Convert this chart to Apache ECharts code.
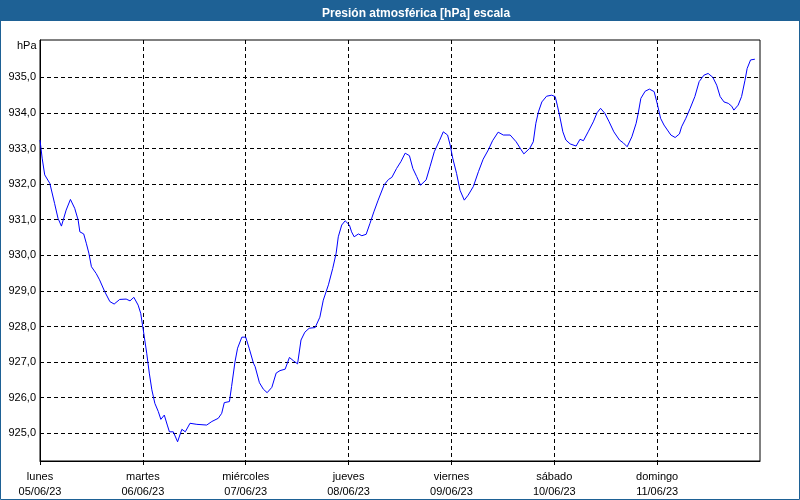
<!DOCTYPE html>
<html><head><meta charset="utf-8">
<script src="https://cdn.jsdelivr.net/npm/echarts@6/dist/echarts.min.js"></script>
<style>html,body{margin:0;padding:0;background:#fff}#c{width:800px;height:500px}</style>
</head><body><div id="c"></div>
<script>
// x tick labels (one per day, hours offset from 05/06/23 00:00)
const dayNames = ['lunes','martes','miércoles','jueves','viernes','sábado','domingo',''];
const dateLabels = ['05/06/23','06/06/23','07/06/23','08/06/23','09/06/23','10/06/23','11/06/23',''];
const xTicks = [0,24,48,72,96,120,144];
const yTicks = [925,926,927,928,929,930,931,932,933,934,935];

// hours since lunes 05/06/23 00:00
const hours = [0,0.5,1.1,2.3,3.4,4.2,5.0,6.1,7.1,8.1,8.9,9.3,10.2,10.8,11.4,12.0,13.1,13.9,15.1,16.3,17.3,18.6,20.1,21.0,21.9,22.9,23.5,24.1,24.9,25.5,26.1,26.8,27.6,28.2,29.0,29.7,30.2,31.1,32.1,33.1,33.9,35.0,36.6,38.9,40.1,41.6,42.4,43.0,44.2,44.7,45.5,46.1,47.1,48.0,48.8,49.8,50.2,51.2,52.1,53.0,54.1,55.1,56.0,57.2,58.2,59.1,60.1,60.9,61.8,62.8,64.2,65.3,66.1,67.3,68.3,69.1,69.6,70.4,71.2,72.2,72.7,73.3,74.3,75.1,76.1,77.0,77.9,78.9,80.3,81.3,82.1,83.2,84.2,85.2,86.2,87.0,87.9,88.8,90.1,91.0,92.0,93.2,94.1,95.1,95.7,96.3,97.2,98.0,99.0,99.9,101.1,102.3,103.4,104.6,105.6,106.9,108.1,109.7,111.1,112.2,112.9,114.3,115.1,115.7,116.3,117.1,118.2,119.4,120.2,120.7,121.3,122.0,122.7,123.7,125.1,126.0,126.8,127.9,129.1,130.0,130.8,131.8,132.8,133.9,135.2,136.1,137.0,138.1,139.1,139.6,140.2,141.2,142.2,143.3,144.0,144.8,145.6,146.4,147.2,148.2,149.2,149.7,150.7,151.7,152.8,153.8,154.9,155.9,157.0,157.9,158.7,159.6,160.6,161.4,161.9,162.9,163.7,164.5,165.0,165.8,166.8];
// pressure [hPa]
const hPa = [933.24,932.73,932.26,932.02,931.46,931.04,930.82,931.27,931.57,931.32,930.99,930.66,930.60,930.34,930.06,929.68,929.49,929.31,928.98,928.70,928.63,928.76,928.77,928.72,928.82,928.60,928.37,927.90,927.25,926.69,926.22,925.84,925.61,925.39,925.51,925.23,925.04,925.04,924.76,925.11,925.04,925.28,925.25,925.23,925.33,925.42,925.56,925.86,925.89,926.31,927.01,927.39,927.70,927.70,927.39,926.97,926.87,926.42,926.24,926.14,926.29,926.69,926.76,926.80,927.13,927.04,926.95,927.62,927.84,927.95,927.97,928.26,928.74,929.17,929.63,930.06,930.52,930.85,930.97,930.85,930.66,930.52,930.60,930.55,930.59,930.90,931.22,931.55,931.98,932.13,932.19,932.44,932.63,932.87,932.80,932.44,932.21,931.97,932.12,932.49,932.91,933.22,933.47,933.38,933.10,932.73,932.30,931.83,931.55,931.69,931.93,932.35,932.70,932.96,933.22,933.46,933.38,933.38,933.19,932.98,932.85,933.01,933.19,933.71,934.03,934.31,934.47,934.50,934.46,934.22,933.89,933.47,933.24,933.13,933.07,933.26,933.22,933.47,933.75,934.01,934.13,933.99,933.75,933.47,933.24,933.16,933.05,933.33,933.71,934.00,934.41,934.61,934.67,934.60,934.27,933.85,933.66,933.52,933.38,933.31,933.41,933.61,933.85,934.13,934.46,934.88,935.06,935.11,935.00,934.78,934.46,934.31,934.27,934.19,934.08,934.22,934.46,934.92,935.25,935.49,935.51];

const seriesData = hours.map((h, i) => [h, hPa[i]]);
const labelFont = "'Liberation Sans', Arial, sans-serif";

const chart = echarts.init(document.getElementById('c'), null, {renderer: 'canvas'});
chart.setOption({
  animation: false,
  backgroundColor: '#ffffff',
  title: {
    text: 'Presión atmosférica [hPa] escala',
    left: 317, top: 3,
    textStyle: {color: '#ffffff', fontWeight: 'bold', fontSize: 12, fontFamily: "'Liberation Sans', Arial, sans-serif"}
  },
  graphic: [
    {type: 'rect', z: -1, shape: {x: 0, y: 0, width: 800, height: 21}, style: {fill: '#1e6195'}, silent: true},
    {type: 'rect', z: -1, shape: {x: 0.5, y: 0.5, width: 799, height: 499}, style: {fill: null, stroke: '#1e6195', lineWidth: 1}, silent: true},
    {type: 'text', left: 17, top: 40, style: {text: 'hPa', fill: '#000', font: "11px 'Liberation Sans', Arial, sans-serif"}}
  ],
  grid: {left: 40, right: 40, top: 40, bottom: 39, show: true, borderColor: '#000', borderWidth: 1, backgroundColor: 'transparent'},
  xAxis: {
    type: 'value', min: 0, max: 168, interval: 24,
    axisLine: {lineStyle: {color: '#000', width: 1}},
    axisTick: {show: true, length: 5, customValues: xTicks, lineStyle: {color: '#000', type: [4, 3]}},
    splitLine: {show: true, lineStyle: {color: '#000', type: [4, 3], width: 1}},
    axisLabel: {
      customValues: xTicks,
      color: '#000', fontFamily: labelFont, fontSize: 11, margin: 8, lineHeight: 15,
      formatter: v => { const i = Math.round(v / 24); return dayNames[i] ? dayNames[i] + '\n' + dateLabels[i] : ''; }
    }
  },
  yAxis: {
    type: 'value', min: 924.22, max: 936.05,
    axisLine: {show: true, lineStyle: {color: '#000', width: 1}},
    axisTick: {show: false, customValues: yTicks},
    splitLine: {show: true, lineStyle: {color: '#000', type: [4, 3], width: 1}},
    axisLabel: {
      customValues: yTicks,
      color: '#000', fontFamily: labelFont, fontSize: 11, margin: 4,
      formatter: v => v.toFixed(1).replace('.', ',')
    }
  },
  series: [{
    type: 'line', data: seriesData, showSymbol: false, symbol: 'none',
    lineStyle: {color: '#0000ff', width: 1}, itemStyle: {color: '#0000ff'}
  }]
});
</script>
</body></html>
